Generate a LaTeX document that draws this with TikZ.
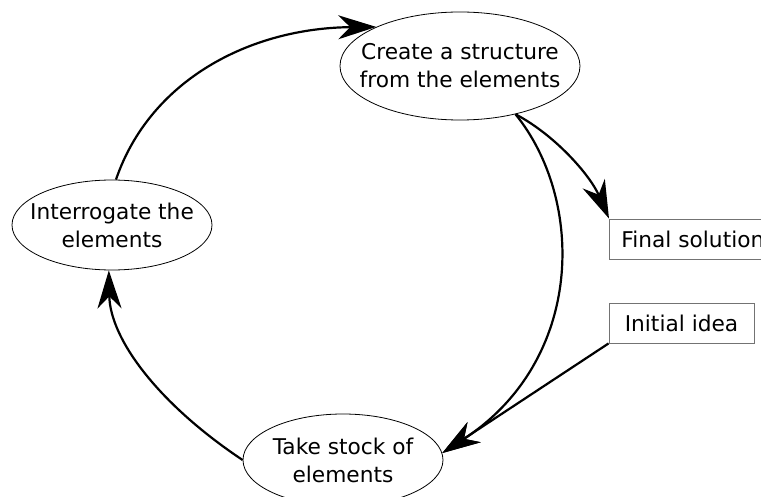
\documentclass[tikz,border=0pt]{standalone}
\usepackage{fontspec}
\setmainfont{DejaVu Sans}
\usetikzlibrary{arrows.meta,shapes.geometric}
\tikzset{
  ell/.style={ellipse, draw, line width=0.8pt, inner sep=-40pt, align=center,
    font=\fontsize{21.7}{28}\selectfont},
  box/.style={rectangle, draw=black!55, line width=0.9pt, minimum height=40pt,
    inner sep=0pt, font=\fontsize{21.7}{28}\selectfont},
  conn/.style={line width=2.2pt, -{Stealth[length=38pt,width=24pt,inset=12pt]}},
}
\begin{document}
\begin{tikzpicture}[x=1pt,y=-1pt]
\useasboundingbox (0,0) rectangle (761,497);
\clip (0,0) rectangle (761,497);
\node[ell, minimum width=240pt, minimum height=108pt] (cre) at (460,66) {Create a structure\\from the elements};
\node[ell, minimum width=200pt, minimum height=90pt] (int) at (112,225) {Interrogate the\\elements};
\node[ell, minimum width=200pt, minimum height=92pt] (ts) at (343,460) {Take stock of\\elements};
\node[box, anchor=west, inner xsep=12pt, minimum width=170pt, align=left] (fin) at (609,239) {Final solution\hspace*{20pt}};
\node[box, minimum width=145pt] (ini) at (681.5,323) {Initial idea};
\draw[conn] (int.85) .. controls (150,80) and (250,28) .. (cre.155);
\draw[conn] (cre.-41) .. controls (555,135) and (590,175) .. (fin.north west);
\draw[conn] (cre.-41) .. controls (585,200) and (585,360) .. (ts.4);
\draw[conn] (ini.south west) -- (ts.4);
\draw[conn] (ts.west) .. controls (160,405) and (110,340) .. (int.-94);
\end{tikzpicture}
\end{document}
